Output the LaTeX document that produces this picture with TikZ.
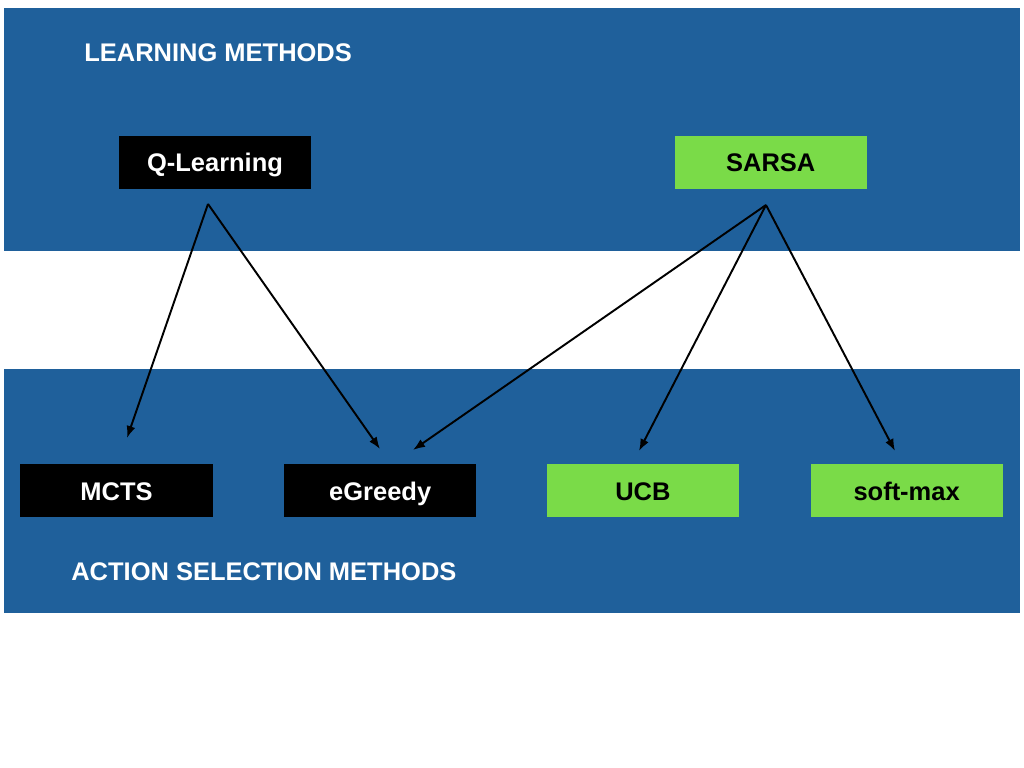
\documentclass[tikz,border=0pt]{standalone}
\usepackage{fontspec}
\setmainfont{Liberation Sans}
\usetikzlibrary{positioning,arrows.meta}

\definecolor{bandblue}{RGB}{31,96,155}
\definecolor{methodgreen}{RGB}{122,219,72}

\begin{document}
\begin{tikzpicture}[x=0.2mm, y=-0.2mm,
	method/.style={
		minimum width=38.4mm,
		minimum height=10.6mm,
		inner sep=0pt,
		text height=10.4pt,
		text depth=0pt,
		font=\bfseries\fontsize{14.5}{17}\selectfont
	},
	qmethod/.style={method, fill=black, text=white},
	smethod/.style={method, fill=methodgreen, text=black},
	title/.style={anchor=west, inner sep=0pt, text=white,
		text height=10.4pt, text depth=0pt,
		font=\bfseries\fontsize{14.5}{17}\selectfont},
	link/.style={line width=1.1pt, -{Latex[length=2.4mm, width=1.8mm]}}
]

\useasboundingbox (0,0) rectangle (1024,768);

% Bands
\fill[bandblue] (4,8) rectangle (1020,251);
\fill[bandblue] (4,369) rectangle (1020,613);

% Titles
\node [title] (learning_title) at (84,52) {LEARNING METHODS};
\node [title] (action_title) at (71,571) {ACTION SELECTION METHODS};

% Learning methods
\node [qmethod] (qlearning) at (215,162.5) {Q-Learning};
\node [smethod,
	right = 72.6mm of qlearning
] (sarsa) {SARSA};

% Action selection methods
\node [qmethod] (mcts) at (116.5,491) {MCTS};
\node [qmethod,
	right = 14.2mm of mcts
] (egreedy) {eGreedy};
\node [smethod,
	right = 14mm of egreedy
] (ucb) {UCB};
\node [smethod,
	right = 14.2mm of ucb
] (softmax) {soft-max};

% Arrow ends
\coordinate (q_out) at (208,204);
\coordinate (s_out) at (766,205);
\coordinate (mcts_in) at (127,438);
\coordinate (egreedy_in_q) at (380,449);
\coordinate (egreedy_in_s) at (413,450);
\coordinate (ucb_in) at (639,451);
\coordinate (softmax_in) at (895,451);

% Arrows
\draw[link] (q_out) -- (mcts_in);
\draw[link] (q_out) -- (egreedy_in_q);
\draw[link] (s_out) -- (egreedy_in_s);
\draw[link] (s_out) -- (ucb_in);
\draw[link] (s_out) -- (softmax_in);

\end{tikzpicture}
\end{document}
